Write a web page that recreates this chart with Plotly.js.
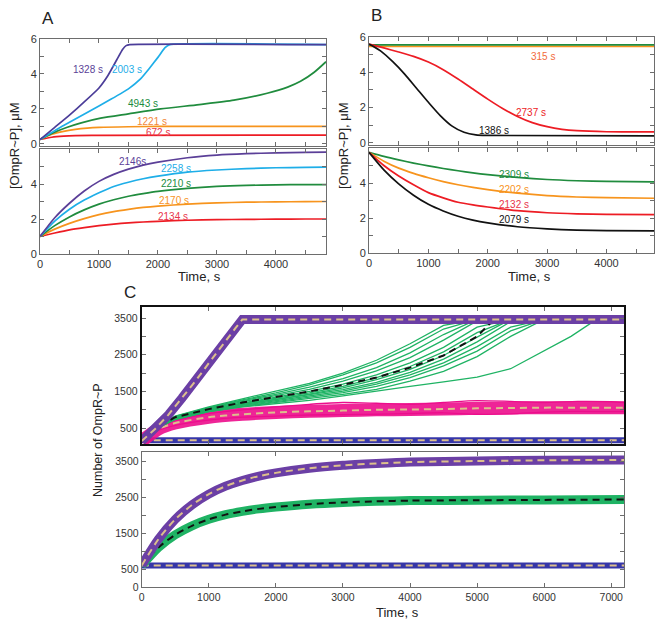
<!DOCTYPE html>
<html><head><meta charset="utf-8">
<script src="https://cdn.plot.ly/plotly-3.0.1.min.js"></script>
<style>body{margin:0;background:#fff}#chart{width:663px;height:626px}</style>
</head><body><div id="chart"></div>
<script>
// ---------- Panel A (top): concentration vs time ----------
const tA1Purple = [0,250,500,750,1000,1150,1300,1400,1460,1520,4850];
const vA1Purple = [0.25,0.95,1.65,2.4,3.2,3.9,4.8,5.4,5.62,5.68,5.68];
const tA1Cyan = [0,400,800,1200,1500,1700,1850,2000,2120,2200,4850];
const vA1Cyan = [0.25,1.05,1.8,2.55,3.15,3.7,4.3,4.95,5.5,5.68,5.68];
const tA1Green = [0,200,463,700,1028,1500,2045,2700,3288,3853,4200,4418,4650,4850];
const vA1Green = [0.25,0.6,0.95,1.2,1.47,1.72,2.0,2.25,2.5,2.9,3.25,3.58,4.1,4.7];
const tA1Orange = [0,200,400,600,800,1000,1500,2000,4850];
const vA1Orange = [0.25,0.55,0.72,0.83,0.9,0.94,0.98,1.0,1.0];
const tA1Red = [0,200,400,600,1000,4850];
const vA1Red = [0.25,0.38,0.44,0.47,0.49,0.5];

// ---------- Panel A (bottom) ----------
const tA2 = [0,250,500,750,1000,1250,1500,1750,2000,2500,3000,3500,4000,4500,4850];
const vA2Purple = [1.0,2.07,2.9,3.6,4.15,4.55,4.85,5.08,5.25,5.5,5.65,5.73,5.78,5.81,5.82];
const vA2Cyan   = [1.0,1.88,2.56,3.08,3.5,3.86,4.1,4.3,4.45,4.68,4.8,4.88,4.93,4.95,4.96];
const vA2Green  = [1.0,1.62,2.12,2.52,2.85,3.1,3.3,3.45,3.58,3.75,3.86,3.92,3.95,3.97,3.97];
const vA2Orange = [1.0,1.42,1.75,2.02,2.25,2.42,2.55,2.66,2.74,2.85,2.92,2.96,2.98,2.99,3.0];
const vA2Red    = [1.0,1.2,1.38,1.51,1.62,1.71,1.78,1.83,1.87,1.93,1.96,1.98,1.99,2.0,2.0];

// ---------- Panel B (top) ----------
const tB1Flat = [0,4800];
const vB1Green = [5.55,5.55];
const vB1Orange = [5.47,5.47];
const tB1Red = [0,250,500,750,1000,1250,1500,1750,2000,2250,2500,2750,3000,3250,3500,4000,4800];
const vB1Red = [5.6,5.38,5.15,4.9,4.58,4.15,3.62,3.05,2.48,1.95,1.5,1.15,0.92,0.77,0.69,0.63,0.62];
const tB1Black = [0,200,400,600,800,1000,1200,1400,1600,1800,2000,4800];
const vB1Black = [5.6,5.2,4.6,3.9,3.1,2.3,1.55,0.95,0.6,0.45,0.42,0.4];

// ---------- Panel B (bottom) ----------
const tB2 = [0,250,500,750,1000,1250,1500,1750,2000,2500,3000,3500,4000,4800];
const vB2Green  = [5.75,5.52,5.32,5.14,4.98,4.83,4.7,4.58,4.48,4.32,4.2,4.13,4.09,4.06];
const vB2Orange = [5.75,5.25,4.85,4.55,4.3,4.08,3.9,3.75,3.62,3.42,3.28,3.2,3.16,3.13];
const vB2Red    = [5.75,5.0,4.4,3.9,3.45,3.15,2.9,2.75,2.63,2.42,2.3,2.24,2.21,2.19];
const vB2Black  = [5.75,4.75,3.95,3.3,2.78,2.4,2.1,1.88,1.72,1.5,1.38,1.31,1.28,1.26];

// ---------- Panel C (top): number of molecules ----------
const tCPurple = [0,200,400,600,800,1000,1200,1400,1500,7190];
const vCPurple = [150,480,870,1320,1780,2270,2760,3230,3460,3460];
const tCBlue = [0,7190];
const vCBlue = [170,170];
const tG = [0,250,500,1000,1500,2000,2500,3000,3500,4000,4500,5000,5500,6000,6500,7000,7190];
const g1  = [150,580,830,1080,1300,1500,1720,2000,2350,2800,3300,3460,3460,3460,3460,3460,3460];
const g2  = [150,570,820,1060,1270,1460,1680,1950,2280,2700,3200,3460,3460,3460,3460,3460,3460];
const g3  = [150,560,810,1050,1250,1420,1620,1850,2150,2550,3050,3460,3460,3460,3460,3460,3460];
const g4  = [150,555,800,1030,1220,1380,1560,1780,2060,2420,2900,3420,3460,3460,3460,3460,3460];
const g5  = [150,550,790,1010,1190,1340,1500,1700,1950,2280,2700,3250,3460,3460,3460,3460,3460];
const g6  = [150,545,785,1000,1170,1310,1460,1640,1880,2180,2580,3100,3460,3460,3460,3460,3460];
const g7  = [150,540,780,990,1150,1290,1430,1600,1820,2100,2480,2980,3460,3460,3460,3460,3460];
const g8  = [150,535,770,980,1140,1270,1400,1550,1750,2020,2380,2850,3400,3460,3460,3460,3460];
const g9  = [150,530,760,970,1120,1250,1370,1510,1700,1950,2280,2720,3250,3460,3460,3460,3460];
const g10 = [150,525,750,960,1100,1220,1340,1470,1640,1880,2200,2600,3150,3460,3460,3460,3460];
const g11 = [150,520,740,950,1090,1200,1300,1420,1560,1780,2050,2450,3000,3460,3460,3460,3460];
const tG12 = [0,250,500,1000,1500,2000,2500,3000,3500,4000,4500,5000,5500,6000,6400,6780,7190];
const g12 = [150,520,740,950,1080,1170,1260,1380,1520,1640,1760,1890,2120,2600,3000,3460,3460];
const tGMean = [0,250,500,1000,1500,2000,2500,3000,3500,4000,4500,5000,5250,7190];
const gMean = [150,560,800,1020,1200,1350,1500,1680,1880,2150,2480,3000,3460,3460];
const tP = [0,250,500,1000,1500,2000,2500,3000,3500,4000,4500,5000,5500,6000,6500,7000,7190];
const pMean = [150,480,640,800,880,930,960,980,1000,1010,1020,1040,1050,1060,1060,1060,1060];
const pHi   = [150,520,700,900,1000,1080,1150,1200,1180,1150,1200,1250,1230,1200,1230,1220,1200];
const pLo   = [150,440,580,720,800,830,860,870,880,900,920,880,890,940,960,950,950];

// ---------- Panel C (bottom) ----------
const tC2 = [0,250,500,750,1000,1250,1500,1750,2000,2500,3000,3500,4000,5000,6000,7190];
const vC2Purple = [600,1330,1880,2280,2580,2800,2960,3080,3170,3300,3380,3430,3470,3500,3520,3530];
const vC2Green  = [600,1100,1450,1700,1880,2010,2100,2170,2220,2300,2350,2380,2400,2410,2420,2430];
const tC2Blue = [0,7190];
const vC2Blue = [600,600];

// ---------- Labels ----------
const FONT = '"Liberation Sans", Arial, Helvetica, sans-serif';
const C = {purple:'#5b3f98', cyan:'#1eaee8', green:'#208c3e', orange:'#f7941d', red:'#ed1c24', black:'#111111',
  cPurple:'#6b3fa5', cGreen:'#1fb364', cPink:'#ec0d8c', cBlue:'#3636a8', tan:'#dcbf8c'};

const W = 663, H = 626;
const px = v => v / W, py = v => 1 - v / H;

const traces = [];
function ln(ax, x, y, color, width, opts) {
  opts = opts || {};
  traces.push({type:'scatter', mode:'lines', x:x, y:y, xaxis:'x'+ax, yaxis:'y'+ax,
    line:{color:color, width:width, dash:opts.dash || 'solid', shape:opts.shape || 'linear', smoothing:opts.smoothing},
    opacity: opts.opacity === undefined ? 1 : opts.opacity, hoverinfo:'skip', showlegend:false});
}
const SP = {shape:'spline', smoothing:0.7};

// A top
ln('', tA1Red, vA1Red, C.red, 1.7, SP);
ln('', tA1Orange, vA1Orange, C.orange, 1.7, SP);
ln('', tA1Green, vA1Green, C.green, 1.7, SP);
ln('', tA1Cyan, vA1Cyan, C.cyan, 1.7, {shape:'spline', smoothing:0.4});
ln('', tA1Purple, vA1Purple, '#4b3d99', 1.7, {shape:'spline', smoothing:0.4});
// A bottom
ln('2', tA2, vA2Red, C.red, 1.7, SP);
ln('2', tA2, vA2Orange, C.orange, 1.7, SP);
ln('2', tA2, vA2Green, C.green, 1.7, SP);
ln('2', tA2, vA2Cyan, C.cyan, 1.7, SP);
ln('2', tA2, vA2Purple, C.purple, 1.7, SP);
// B top
ln('3', tB1Flat, vB1Orange, C.orange, 1.7);
ln('3', tB1Flat, vB1Green, C.green, 1.7);
ln('3', tB1Red, vB1Red, C.red, 1.7, SP);
ln('3', tB1Black, vB1Black, C.black, 1.7, SP);
// B bottom
ln('4', tB2, vB2Green, C.green, 1.7, SP);
ln('4', tB2, vB2Orange, C.orange, 1.7, SP);
ln('4', tB2, vB2Red, C.red, 1.7, SP);
ln('4', tB2, vB2Black, C.black, 1.7, SP);
// C top
ln('5', tCBlue, vCBlue, C.cBlue, 6);
ln('5', tCBlue, vCBlue, C.tan, 2, {dash:'7px,5px'});
[pHi, pLo].forEach(p => ln('5', tP, p, C.cPink, 1.3, SP));
ln('5', tP, pMean, C.cPink, 13, {shape:'spline', smoothing:0.7, opacity:0.9});
ln('5', tP, pMean, C.tan, 2, {dash:'7px,5px', shape:'spline', smoothing:0.7});
[g1,g2,g3,g4,g5,g6,g7,g8,g9,g10,g11].forEach(g => ln('5', tG, g, C.cGreen, 1.3));
ln('5', tG12, g12, C.cGreen, 1.3);
ln('5', tGMean, gMean, C.black, 2, {dash:'7px,5px'});
ln('5', tCPurple, vCPurple, C.cPurple, 9);
ln('5', tCPurple, vCPurple, C.tan, 2, {dash:'7px,5px'});
// C bottom
ln('6', tC2Blue, vC2Blue, C.cBlue, 6);
ln('6', tC2Blue, vC2Blue, C.tan, 2, {dash:'7px,5px'});
ln('6', tC2, vC2Green, C.cGreen, 9, SP);
ln('6', tC2, vC2Green, C.black, 2, {dash:'7px,5px', shape:'spline', smoothing:0.7});
ln('6', tC2, vC2Purple, C.cPurple, 9, SP);
ln('6', tC2, vC2Purple, C.tan, 2, {dash:'7px,5px', shape:'spline', smoothing:0.7});

// ---------- axes ----------
const xtA = [0,500,1000,1500,2000,2500,3000,3500,4000,4500];
const xtAtext = ['0','','1000','','2000','','3000','','4000',''];
const ytA = [0,1,2,3,4,5,6];
const xtC = [0,1000,2000,3000,4000,5000,6000,7000];
const xtCtext = ['0','1000','2000','3000','4000','5000','6000','7000'];

function axis(extra, frame) {
  return Object.assign({
    showgrid:false, zeroline:false, showline:true, mirror:'ticks',
    linecolor: frame || '#6d6d6d', linewidth:1, ticks:'inside', ticklen:4, tickwidth:1,
    tickcolor:'#6d6d6d', tickfont:{family:FONT, size:11, color:'#333'}, fixedrange:true
  }, extra);
}
const dAx = [px(40), px(326)], dBx = [px(369), px(654)], dCx = [px(141.7), px(624)];

const layout = {
  width:W, height:H, margin:{l:0,r:0,t:0,b:0}, paper_bgcolor:'#fff', plot_bgcolor:'#fff',
  showlegend:false, font:{family:FONT, color:'#222'},
  xaxis: axis({domain:dAx, anchor:'y', range:[0,4850], tickvals:xtA, showticklabels:false}),
  yaxis: axis({domain:[py(146), py(39)], anchor:'x', range:[-0.12,6], tickvals:ytA, ticktext:['0','','2','','4','','6']}),
  xaxis2: axis({domain:dAx, anchor:'y2', range:[0,4850], tickvals:xtA, ticktext:xtAtext}),
  yaxis2: axis({domain:[py(254), py(149)], anchor:'x2', range:[0,6], tickvals:ytA, ticktext:['0','','2','','4','','']}),
  xaxis3: axis({domain:dBx, anchor:'y3', range:[0,4800], tickvals:xtA, showticklabels:false}),
  yaxis3: axis({domain:[py(145), py(37)], anchor:'x3', range:[-0.12,6], tickvals:ytA, ticktext:['0','','2','','4','','6']}),
  xaxis4: axis({domain:dBx, anchor:'y4', range:[0,4800], tickvals:xtA, ticktext:xtAtext}),
  yaxis4: axis({domain:[py(253), py(148)], anchor:'x4', range:[0,6], tickvals:ytA, ticktext:['0','','2','','4','','']}),
  xaxis5: axis({domain:dCx, anchor:'y5', range:[0,7190], tickvals:xtC, showticklabels:false, linewidth:2}, '#111'),
  yaxis5: axis({domain:[py(444), py(307)], anchor:'x5', range:[70,3800], tickvals:[500,1000,1500,2000,2500,3000,3500],
    ticktext:['500','','1500','','2500','','3500'], linewidth:2, tickfont:{family:FONT, size:10.5, color:'#333'}}, '#111'),
  xaxis6: axis({domain:dCx, anchor:'y6', range:[0,7190], tickvals:xtC, ticktext:xtCtext, tickfont:{family:FONT, size:10.5, color:'#333'}}),
  yaxis6: axis({domain:[py(587), py(452)], anchor:'x6', range:[0,3750], tickvals:[0,500,1000,1500,2000,2500,3000,3500],
    ticktext:['0','500','','1500','','2500','','3500'], tickfont:{family:FONT, size:10.5, color:'#333'}}),
  annotations: []
};

function paperText(text, x, y, size, angle) {
  layout.annotations.push({xref:'paper', yref:'paper', x:px(x), y:py(y), text:text, showarrow:false,
    xanchor:'center', yanchor:'middle', textangle:angle || 0, font:{family:FONT, size:size, color:'#222'}});
}
function dataText(ax, text, x, y, color) {
  layout.annotations.push({xref:'x'+ax, yref:'y'+ax, x:x, y:y, text:text, showarrow:false,
    xanchor:'center', yanchor:'middle', font:{family:FONT, size:10, color:color}});
}
paperText('A', 48, 18, 17);
paperText('B', 376, 15, 17);
paperText('C', 130, 292, 17);
paperText('[OmpR~P], μM', 14, 146, 13, -90);
paperText('[OmpR~P], μM', 343, 146, 13, -90);
paperText('Time, s', 199, 277, 13);
paperText('Time, s', 529, 277, 13);
paperText('Time, s', 397, 612, 13);
paperText('Number of OmpR~P', 98, 440, 12.5, -90);

// curve labels
dataText('', '1328 s', 814, 4.23, '#5b3f98');
dataText('', '2003 s', 1475, 4.23, C.cyan);
dataText('', '4943 s', 1746, 2.29, C.green);
dataText('', '1221 s', 1898, 1.27, '#f2873a');
dataText('', '672 s', 2000, 0.66, '#e8344a');
dataText('2', '2146s', 1576, 5.27, '#5b3f98');
dataText('2', '2258 s', 2305, 4.86, C.cyan);
dataText('2', '2210 s', 2305, 4.04, C.green);
dataText('2', '2170 s', 2271, 3.03, C.orange);
dataText('2', '2134 s', 2254, 2.17, '#e8344a');
dataText('3', '315 s', 2924, 4.9, '#f26b3a');
dataText('3', '2737 s', 2723, 1.71, C.red);
dataText('3', '1386 s', 2100, 0.7, '#111');
dataText('4', '2309 s', 2437, 4.5, C.green);
dataText('4', '2202 s', 2437, 3.6, C.orange);
dataText('4', '2132 s', 2437, 2.78, '#e8344a');
dataText('4', '2079 s', 2437, 1.89, '#111');

Plotly.newPlot('chart', traces, layout, {staticPlot:true, displayModeBar:false});
</script>
</body></html>
